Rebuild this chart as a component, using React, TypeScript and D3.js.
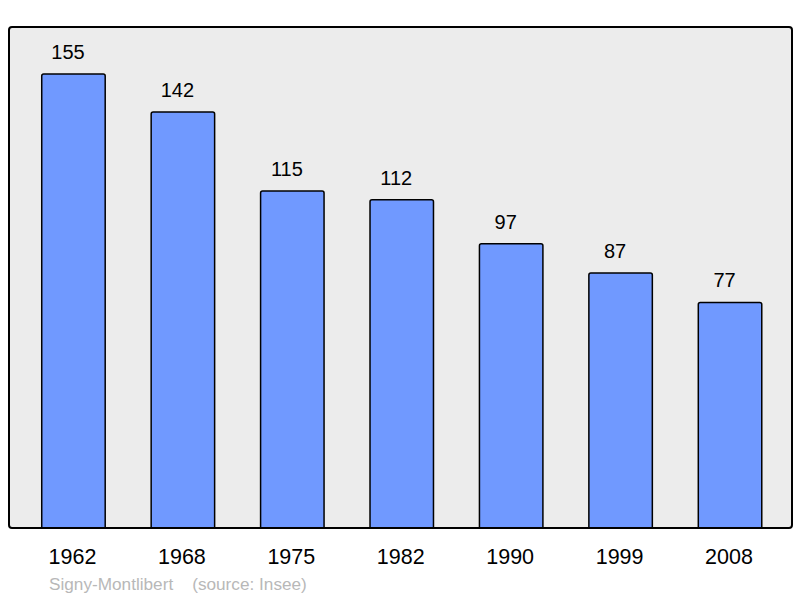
import React from "react";
import * as d3 from "d3";

const years = ["1962", "1968", "1975", "1982", "1990", "1999", "2008"];
const population = [155, 142, 115, 112, 97, 87, 77];
const commune = "Signy-Montlibert";
const source = "(source: Insee)";

const W = 800;
const H = 598;
const frame = { left: 9, top: 27, right: 792, bottom: 528 };

export default function App() {
  const x = d3
    .scaleBand<string>()
    .domain(years)
    .range([frame.left + 1, frame.right + 1.5])
    .paddingInner(0.42)
    .paddingOuter(0.29);
  const y = d3.scaleLinear().domain([0, 171]).range([frame.bottom, frame.top]);
  const font = "'Liberation Sans', Arial, sans-serif";

  return (
    <svg
      width={W}
      height={H}
      style={{ position: "absolute", left: 0, top: 0 }}
      fontFamily={font}
    >
      <rect x={0} y={0} width={W} height={H} fill="#ffffff" />
      <rect
        x={frame.left}
        y={frame.top}
        width={frame.right - frame.left}
        height={frame.bottom - frame.top}
        rx={3}
        fill="#ececec"
        stroke="none"
      />
      {years.map((yr, i) => {
        const bx = x(yr)!;
        const by = y(population[i]);
        const bw = x.bandwidth();
        return (
          <g key={yr}>
            <path
              d={`M${bx},${frame.bottom} V${by + 2} Q${bx},${by} ${bx + 2},${by} H${bx + bw - 2} Q${bx + bw},${by} ${bx + bw},${by + 2} V${frame.bottom}`}
              fill="#7099ff"
              stroke="#000"
              strokeWidth={1.5}
            />
            <text
              x={bx + bw / 2 - 5.5}
              y={by - 15}
              textAnchor="middle"
              fontSize={20}
              fill="#000"
            >
              {population[i]}
            </text>
            <text
              x={bx + bw / 2 - 1}
              y={564}
              textAnchor="middle"
              fontSize={21.5}
              fill="#000"
            >
              {yr}
            </text>
          </g>
        );
      })}
      <rect
        x={frame.left}
        y={frame.top}
        width={frame.right - frame.left}
        height={frame.bottom - frame.top}
        rx={3}
        fill="none"
        stroke="#000"
        strokeWidth={2}
      />
      <text x={49} y={590} fontSize={17.2} fill="#b8b8b8">
        {commune}
        <tspan dx={19}>{source}</tspan>
      </text>
    </svg>
  );
}
